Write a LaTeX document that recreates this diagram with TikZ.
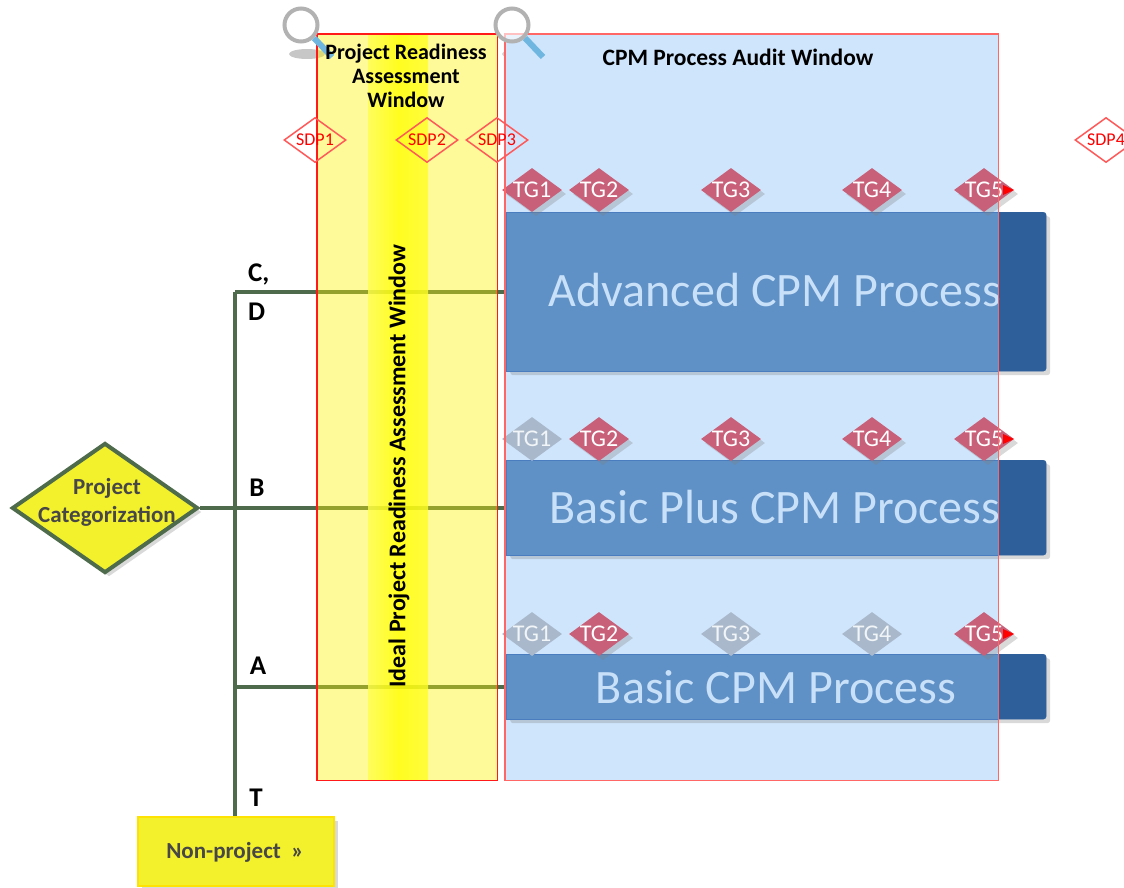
\documentclass[tikz,border=0pt]{standalone}
\usepackage{fontspec}
\setmainfont{Carlito}
\usetikzlibrary{shapes.geometric,shadows}

\definecolor{linegreen}{HTML}{4E6B4B}
\definecolor{tgred}{HTML}{C9607A}
\definecolor{tggrey}{HTML}{A9B9CB}
\definecolor{procblue}{HTML}{5F90C6}
\definecolor{procdark}{HTML}{2E5F9B}
\definecolor{procedge}{HTML}{4A7CC0}
\definecolor{proctext}{HTML}{C8E0F8}
\definecolor{cpmblue}{HTML}{CFE5FC}
\definecolor{catyellow}{HTML}{F3F02C}
\definecolor{lensblue}{HTML}{6FB6E0}

\tikzset{
    softshadow/.style={drop shadow={shadow xshift=4pt,shadow yshift=-4pt,opacity=.3}},
    tgbase/.style={diamond,aspect=1.36,inner sep=0pt,minimum width=60pt,minimum height=44pt,
        text=white,font=\fontsize{24}{24}\selectfont},
    tg/.style={tgbase,fill=tgred,softshadow},
    tgoff/.style={tgbase,fill=tggrey,text=white!85!tggrey},
    sdp/.style={diamond,aspect=1.36,draw=red!65,line width=1.5pt,inner sep=0pt,
        minimum width=62pt,minimum height=45pt,text=red},
    sdptext/.style={text=red,inner sep=0pt,font=\fontsize{18}{18}\selectfont},
    procbox/.style={rounded corners=3pt,fill=procdark,draw=procdark,inner sep=0pt,
        minimum width=540pt,softshadow},
    procpart/.style={fill=procblue,draw=procedge,line width=1pt},
    proclabel/.style={text=proctext,inner sep=0pt,font=\fontsize{48}{48}\selectfont},
    grade/.style={font=\fontsize{27}{39}\selectfont\bfseries,inner sep=0pt},
    branch/.style={linegreen,line width=4pt},
    lens/.style={draw=black!30,line width=4pt,fill=white,fill opacity=.6,inner sep=0pt,circle,minimum size=33pt},
    lenshandle/.style={lensblue,line width=6pt},
}

\begin{document}
\begin{tikzpicture}[x=1pt,y=-1pt]
    \useasboundingbox (0,0) rectangle (1124,887);

    % magnifier shadows
    \fill[black!22] (307,54) ellipse [x radius=18,y radius=5];
    \fill[black!18] (520,54) ellipse [x radius=18,y radius=5];

    % category tree
    \node[diamond,aspect=1.43,draw=linegreen,line width=4pt,fill=catyellow,inner sep=0pt,
        minimum width=186pt,minimum height=130pt,softshadow] (categ) at (105,508) {};
    \node[align=center,text=black!72,font=\fontsize{23}{28}\selectfont\bfseries] (categtext) at (107,502) {Project\\Categorization};
    \node[anchor=north west,fill=catyellow,draw=yellow!85!orange,line width=1.5pt,minimum width=196pt,
        minimum height=69pt,inner sep=0pt,softshadow] (nonproj) at (137,816) {};
    \node[text=black!72,font=\fontsize{23}{23}\selectfont\bfseries] (nonprojtext) at (235,852) {Non-project~~»};
    \coordinate (trunktop) at (235,292);
    \coordinate (trunklow) at (235,687);
    \coordinate (nonprojtop) at (235,816);
    \coordinate (boxedge) at (510,0);
    \draw[branch] (trunktop) -- (nonprojtop);
    \draw[branch] (trunktop) -- (trunktop -| boxedge);
    \draw[branch] (categ.east) -- (categ.east -| boxedge);
    \draw[branch] (trunklow) -- (trunklow -| boxedge);

    \node[grade,anchor=west,align=left] (gradecd) at (248,292) {C,\\D};
    \node[grade] (gradeb) at (257,488) {B};
    \node[grade] (gradea) at (258,666) {A};
    \node[grade] (gradet) at (256,798) {T};

    % windows
    \node[anchor=north west,fill=yellow,fill opacity=.4,minimum width=180pt,minimum height=746pt,inner sep=0pt] (readywin) at (317,34) {};
    \shade[left color=yellow!70!white,right color=yellow!85!white,middle color=yellow,opacity=.8] (368,35) rectangle (428,779);
    \node[anchor=north west,fill=cpmblue,minimum width=493pt,minimum height=746pt,inner sep=0pt] (cpmwin) at (505,34) {};

    % process boxes
    \node[procbox,anchor=north west,minimum height=159pt] (advbox) at (506,212) {};
    \node[procbox,anchor=north west,minimum height=95pt] (plusbox) at (506,460) {};
    \node[procbox,anchor=north west,minimum height=65pt] (basicbox) at (506,654) {};
    \draw[procpart] (advbox.north west) rectangle (998,371);
    \draw[procpart] (plusbox.north west) rectangle (998,555);
    \draw[procpart] (basicbox.north west) rectangle (998,719);
    \node[proclabel] (advtext) at (775,290) {Advanced CPM Process};
    \node[proclabel] (plustext) at (775,507) {Basic Plus CPM Process};
    \node[proclabel] (basictext) at (776,687) {Basic CPM Process};

    % gates
    \node[tg] (advtga) at (532,190) {TG1};
    \node[tg] (advtgb) at (599,190) {TG2};
    \node[tg] (advtgc) at (731,190) {TG3};
    \node[tg] (advtgd) at (872,190) {TG4};
    \node[tg] (advtge) at (984,190) {TG5};
    \node[tgoff] (plustga) at (532,439) {TG1};
    \node[tg] (plustgb) at (599,439) {TG2};
    \node[tg] (plustgc) at (731,439) {TG3};
    \node[tg] (plustgd) at (872,439) {TG4};
    \node[tg] (plustge) at (984,439) {TG5};
    \node[tgoff] (basictga) at (532,634) {TG1};
    \node[tg] (basictgb) at (599,634) {TG2};
    \node[tgoff] (basictgc) at (731,634) {TG3};
    \node[tgoff] (basictgd) at (872,634) {TG4};
    \node[tg] (basictge) at (984,634) {TG5};
    \foreach \rowy in {190,439,634} {
        \fill[red] (1003,\rowy-5) -- (1014,\rowy) -- (1003,\rowy+5) -- cycle;
    }

    % window frames on top
    \draw[red!90,line width=1.8pt] (readywin.north west) rectangle (readywin.south east);
    \draw[red!60,line width=1.3pt] (cpmwin.north west) rectangle (cpmwin.south east);

    % magnifiers
    \node[lens] (lensa) at (301,25) {};
    \node[lens] (lensb) at (512,25) {};
    \draw[lenshandle] (lensa.south east) -- (332,57);
    \draw[lenshandle] (lensb.south east) -- (543,57);

    % titles
    \node[align=center,text=black,font=\fontsize{22}{24}\selectfont\bfseries] (readytitle) at (406,76) {Project Readiness\\Assessment\\Window};
    \node[text=black,font=\fontsize{23.5}{24}\selectfont\bfseries] (cpmtitle) at (738,57) {CPM Process Audit Window};
    \node[rotate=90,text=black,font=\fontsize{24}{24}\selectfont\bfseries] (idealtext) at (399,466) {Ideal Project Readiness Assessment Window};

    \node[sdp] (sdpa) at (315,140) {};
    \node[sdp] (sdpb) at (427,140) {};
    \node[sdp] (sdpc) at (497,140) {};
    \node[sdp] (sdpd) at (1106,140) {};
    \node[sdptext] (sdpatext) at (315,140) {SDP1};
    \node[sdptext] (sdpbtext) at (427,140) {SDP2};
    \node[sdptext] (sdpctext) at (497,140) {SDP3};
    \node[sdptext] (sdpdtext) at (1106,140) {SDP4};
\end{tikzpicture}
\end{document}
